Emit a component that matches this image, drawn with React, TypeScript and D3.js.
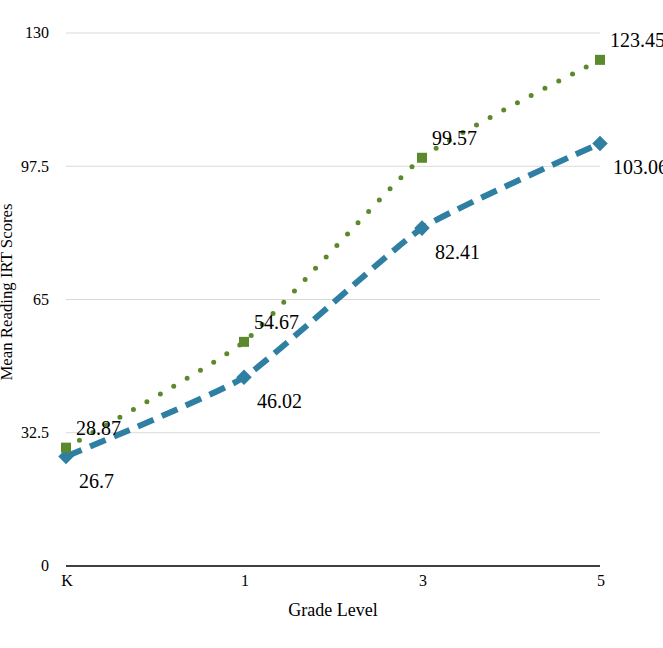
import React from "react";
import * as d3 from "d3";

const grades = ["K", "1", "3", "5"];
const seriesA = [28.87, 54.67, 99.57, 123.45]; // green, dotted with squares
const seriesB = [26.7, 46.02, 82.41, 103.06]; // blue, dashed with diamonds
const yTicks = [0, 32.5, 65, 97.5, 130];

const W = 663;
const H = 648;
const left = 66;
const right = 600;
const top = 33;
const bottom = 566;

const GREEN = "#5a8a2b";
const BLUE = "#2f7fa3";
const FONT = "'Liberation Serif', 'DejaVu Serif', 'Times New Roman', serif";

export default function App() {
  const x = d3.scalePoint<string>().domain(grades).range([left, right]);
  const y = d3.scaleLinear().domain([0, 130]).range([bottom, top]);
  const line = d3
    .line<number>()
    .x((_, i) => x(grades[i]) as number)
    .y((d) => y(d))
    .curve(d3.curveCardinal.tension(0.55));

  return (
    <svg
      width={W}
      height={H}
      style={{ position: "absolute", left: 0, top: 0, background: "#fff", fontFamily: FONT }}
    >
      <rect width={W} height={H} fill="#fff" />
      {yTicks.map((t) => (
        <g key={t}>
          {t !== 0 && (
            <line x1={left} x2={right} y1={y(t)} y2={y(t)} stroke="#d9d9d9" strokeWidth={1} />
          )}
          <text x={49} y={y(t)} dy="0.33em" textAnchor="end" fontSize={16} fill="#000">
            {t}
          </text>
        </g>
      ))}
      <line x1={left} x2={right} y1={y(0)} y2={y(0)} stroke="#000" strokeWidth={1.3} />
      {grades.map((g) => (
        <text key={g} x={(x(g) as number) + 1} y={586} textAnchor="middle" fontSize={16} fill="#000">
          {g}
        </text>
      ))}
      <text x={333} y={616} textAnchor="middle" fontSize={18} fill="#000">
        Grade Level
      </text>
      <text
        transform={`translate(11.5,292) rotate(-90)`}
        textAnchor="middle"
        fontSize={16.8}
        fill="#000"
      >
        Mean Reading IRT Scores
      </text>

      {/* blue dashed series */}
      <path
        d={line(seriesB) || ""}
        fill="none"
        stroke={BLUE}
        strokeWidth={6}
        strokeDasharray="17 9"
      />
      {seriesB.map((v, i) => {
        const cx = x(grades[i]) as number;
        const cy = y(v);
        return (
          <rect
            key={i}
            x={cx - 5.5}
            y={cy - 5.5}
            width={11}
            height={11}
            fill={BLUE}
            transform={`rotate(45 ${cx} ${cy})`}
          />
        );
      })}

      {/* green dotted series */}
      <path
        d={line(seriesA) || ""}
        fill="none"
        stroke={GREEN}
        strokeWidth={5}
        strokeLinecap="round"
        strokeDasharray="0 15.5"
      />
      {seriesA.map((v, i) => {
        const cx = x(grades[i]) as number;
        const cy = y(v);
        return <rect key={i} x={cx - 5} y={cy - 5} width={10} height={10} fill={GREEN} />;
      })}

      {/* value labels */}
      {seriesA.map((v, i) => (
        <text
          key={`a${i}`}
          x={(x(grades[i]) as number) + 10}
          y={y(v) - 20}
          dy="0.35em"
          fontSize={20}
          fill="#000"
        >
          {v}
        </text>
      ))}
      {seriesB.map((v, i) => (
        <text
          key={`b${i}`}
          x={(x(grades[i]) as number) + 13}
          y={y(v) + 24}
          dy="0.35em"
          fontSize={20}
          fill="#000"
        >
          {v}
        </text>
      ))}
    </svg>
  );
}
